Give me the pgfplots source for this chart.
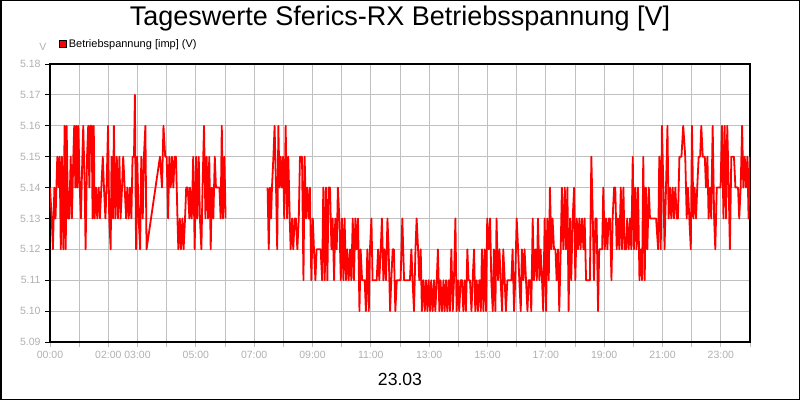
\documentclass[border=0pt]{standalone}
\usepackage{fontspec}
\setmainfont{Liberation Sans}
\usepackage{pgfplots}
\pgfplotsset{compat=1.18}
\definecolor{gridgray}{RGB}{192,192,192}
\definecolor{labelgray}{RGB}{176,176,176}

% Betriebsspannung, Stunden / Volt
\pgfplotstableread{
h v
0.00 5.14
0.06 5.13
0.10 5.12
0.15 5.14
0.19 5.13
0.25 5.15
0.30 5.14
0.33 5.15
0.37 5.12
0.41 5.15
0.46 5.12
0.50 5.16
0.54 5.12
0.57 5.16
0.62 5.13
0.66 5.13
0.71 5.15
0.75 5.13
0.80 5.15
0.83 5.16
0.87 5.14
0.90 5.16
0.94 5.14
0.97 5.16
1.02 5.14
1.06 5.13
1.11 5.15
1.14 5.16
1.19 5.14
1.22 5.12
1.27 5.15
1.31 5.16
1.35 5.14
1.38 5.16
1.43 5.16
1.46 5.13
1.50 5.16
1.53 5.13
1.58 5.14
1.62 5.13
1.67 5.14
1.71 5.13
1.76 5.14
1.81 5.15
1.85 5.14
1.90 5.13
1.94 5.14
1.99 5.16
2.03 5.13
2.08 5.12
2.11 5.15
2.16 5.13
2.19 5.16
2.24 5.13
2.29 5.15
2.33 5.13
2.38 5.15
2.42 5.13
2.47 5.14
2.51 5.15
2.56 5.14
2.61 5.13
2.65 5.14
2.70 5.13
2.74 5.14
2.79 5.13
2.83 5.15
2.88 5.15
2.91 5.17
2.95 5.12
2.99 5.15
3.04 5.13
3.09 5.12
3.13 5.15
3.18 5.13
3.22 5.15
3.27 5.16
3.31 5.12
3.77 5.15
3.84 5.14
3.89 5.16
3.95 5.15
4.00 5.15
4.05 5.13
4.09 5.15
4.14 5.14
4.18 5.15
4.23 5.14
4.27 5.15
4.32 5.15
4.37 5.13
4.40 5.12
4.45 5.13
4.49 5.12
4.54 5.13
4.58 5.12
4.63 5.13
4.67 5.14
4.72 5.14
4.78 5.13
4.80 5.14
4.86 5.13
4.91 5.15
4.96 5.12
5.01 5.15
5.05 5.13
5.10 5.15
5.14 5.13
5.19 5.12
5.23 5.14
5.28 5.16
5.33 5.13
5.37 5.15
5.42 5.13
5.46 5.15
5.51 5.12
5.55 5.14
5.60 5.13
5.65 5.15
5.69 5.14
5.76 5.14
5.81 5.14
5.85 5.13
5.89 5.16
5.93 5.13
5.98 5.15
6.02 5.13
6.05 nan
7.46 5.14
7.50 5.12
7.54 5.14
7.58 5.13
7.61 5.14
7.66 5.15
7.70 5.16
7.75 5.14
7.79 5.12
7.83 5.16
7.87 5.14
7.91 5.15
7.95 5.14
7.99 5.15
8.03 5.13
8.08 5.16
8.13 5.13
8.17 5.15
8.22 5.13
8.25 5.12
8.30 5.13
8.34 5.12
8.39 5.13
8.43 5.13
8.48 5.12
8.53 5.13
8.57 5.15
8.64 5.15
8.69 5.11
8.73 5.15
8.78 5.13
8.82 5.14
8.87 5.13
8.91 5.14
8.96 5.11
9.01 5.13
9.05 5.12
9.10 5.11
9.14 5.12
9.21 5.12
9.28 5.12
9.33 5.11
9.37 5.14
9.42 5.11
9.46 5.14
9.51 5.11
9.55 5.14
9.60 5.14
9.65 5.12
9.69 5.13
9.74 5.11
9.78 5.13
9.83 5.12
9.87 5.14
9.92 5.13
9.97 5.11
10.01 5.13
10.06 5.11
10.10 5.13
10.15 5.11
10.19 5.12
10.24 5.11
10.29 5.12
10.33 5.11
10.38 5.13
10.42 5.11
10.47 5.13
10.51 5.12
10.56 5.13
10.61 5.10
10.65 5.12
10.70 5.11
10.74 5.11
10.79 5.11
10.83 5.10
10.88 5.12
10.93 5.10
10.97 5.12
11.02 5.13
11.06 5.11
11.13 5.11
11.20 5.11
11.25 5.12
11.29 5.11
11.34 5.12
11.38 5.13
11.43 5.11
11.47 5.12
11.52 5.11
11.57 5.13
11.61 5.12
11.66 5.10
11.70 5.11
11.75 5.12
11.79 5.12
11.84 5.10
11.89 5.11
11.95 5.11
12.02 5.11
12.08 5.13
12.14 5.11
12.21 5.11
12.27 5.11
12.34 5.11
12.39 5.12
12.43 5.11
12.48 5.10
12.53 5.12
12.57 5.13
12.62 5.12
12.66 5.11
12.71 5.12
12.75 5.10
12.80 5.11
12.85 5.10
12.89 5.11
12.94 5.10
12.98 5.11
13.03 5.10
13.07 5.11
13.12 5.10
13.17 5.11
13.21 5.10
13.26 5.11
13.30 5.12
13.35 5.10
13.39 5.11
13.44 5.10
13.49 5.11
13.53 5.10
13.58 5.11
13.62 5.10
13.67 5.11
13.71 5.10
13.76 5.12
13.81 5.10
13.85 5.11
13.90 5.13
13.94 5.10
13.99 5.11
14.03 5.10
14.08 5.11
14.13 5.11
14.17 5.10
14.22 5.11
14.26 5.10
14.31 5.12
14.35 5.11
14.40 5.11
14.45 5.10
14.49 5.11
14.54 5.12
14.58 5.10
14.63 5.11
14.67 5.10
14.72 5.11
14.77 5.10
14.81 5.12
14.86 5.10
14.90 5.12
14.95 5.10
14.99 5.13
15.04 5.12
15.09 5.13
15.13 5.11
15.18 5.10
15.22 5.12
15.27 5.10
15.31 5.13
15.36 5.11
15.41 5.12
15.45 5.11
15.50 5.10
15.54 5.12
15.59 5.11
15.63 5.10
15.68 5.11
15.75 5.11
15.82 5.11
15.86 5.12
15.91 5.10
15.95 5.11
16.00 5.13
16.05 5.12
16.09 5.11
16.14 5.10
16.18 5.12
16.23 5.11
16.27 5.12
16.32 5.11
16.37 5.10
16.41 5.11
16.46 5.11
16.50 5.10
16.55 5.13
16.59 5.11
16.64 5.12
16.69 5.11
16.73 5.13
16.78 5.11
16.82 5.12
16.87 5.11
16.91 5.10
16.96 5.13
17.01 5.10
17.05 5.13
17.10 5.11
17.14 5.14
17.19 5.12
17.23 5.13
17.28 5.12
17.33 5.12
17.37 5.11
17.42 5.12
17.46 5.10
17.51 5.12
17.55 5.14
17.60 5.12
17.65 5.14
17.69 5.12
17.74 5.14
17.78 5.10
17.83 5.13
17.87 5.11
17.92 5.13
17.97 5.14
18.01 5.11
18.06 5.13
18.10 5.12
18.15 5.13
18.19 5.12
18.24 5.13
18.29 5.12
18.33 5.13
18.38 5.11
18.45 5.11
18.51 5.11
18.56 5.15
18.61 5.13
18.65 5.11
18.70 5.13
18.74 5.13
18.79 5.10
18.83 5.12
18.88 5.12
18.93 5.12
18.97 5.14
19.02 5.12
19.06 5.13
19.11 5.12
19.15 5.13
19.20 5.13
19.25 5.11
19.29 5.13
19.34 5.14
19.38 5.14
19.43 5.12
19.47 5.13
19.52 5.12
19.57 5.14
19.61 5.12
19.66 5.14
19.70 5.12
19.75 5.12
19.79 5.13
19.84 5.12
19.89 5.13
19.93 5.12
19.98 5.15
20.02 5.12
20.07 5.14
20.11 5.12
20.16 5.14
20.21 5.11
20.25 5.12
20.30 5.11
20.34 5.15
20.39 5.11
20.43 5.14
20.48 5.12
20.53 5.14
20.57 5.13
20.64 5.13
20.71 5.13
20.78 5.13
20.85 5.12
20.89 5.15
20.94 5.12
20.98 5.16
21.03 5.14
21.07 5.12
21.12 5.14
21.17 5.16
21.21 5.13
21.26 5.14
21.30 5.13
21.35 5.14
21.39 5.13
21.44 5.14
21.49 5.13
21.53 5.13
21.58 5.15
21.65 5.15
21.71 5.16
21.78 5.15
21.83 5.13
21.87 5.14
21.92 5.13
21.97 5.12
22.01 5.16
22.06 5.13
22.10 5.14
22.15 5.13
22.19 5.14
22.24 5.15
22.29 5.15
22.33 5.16
22.38 5.15
22.45 5.15
22.49 5.14
22.54 5.15
22.58 5.13
22.63 5.14
22.67 5.13
22.72 5.16
22.77 5.13
22.81 5.12
22.86 5.14
22.93 5.14
22.99 5.14
23.04 5.16
23.09 5.13
23.13 5.16
23.18 5.13
23.22 5.16
23.27 5.14
23.31 5.12
23.36 5.15
23.41 5.15
23.45 5.15
23.50 5.14
23.54 5.14
23.59 5.14
23.63 5.13
23.68 5.14
23.73 5.16
23.77 5.14
23.82 5.15
23.86 5.14
23.91 5.15
23.95 5.13
24.00 5.15
}\spannung

\begin{document}
\begin{tikzpicture}[x=1pt,y=1pt]
\path[use as bounding box] (0,0) rectangle (800,400);
\begin{axis}[
    at={(50pt,58pt)}, anchor=south west,
    scale only axis, width=700pt, height=278pt,
    xmin=0, xmax=24, ymin=5.09, ymax=5.18,
    xtick={0,...,24},
    xticklabels={00:00,,02:00,03:00,,05:00,,07:00,,09:00,,11:00,,13:00,,15:00,,17:00,,19:00,,21:00,,23:00,},
    ytick={5.09,5.10,5.11,5.12,5.13,5.14,5.15,5.16,5.17,5.18},
    /pgf/number format/fixed,
    /pgf/number format/fixed zerofill,
    /pgf/number format/precision=2,
    /pgf/number format/assume math mode=true,
    ticklabel style={font=\fontsize{10.5}{12}\selectfont, text=labelgray},
    xticklabel style={yshift=-1pt},
    yticklabel style={xshift=-1pt},
    tick align=outside,
    major tick length=5pt,
    x tick style={gridgray, line width=1pt},
    y tick style={black, line width=1pt},
    xtick pos=bottom, ytick pos=left,
    grid=major,
    major grid style={gridgray, line width=1pt},
    axis line style={black, line width=1.2pt},
    unbounded coords=jump,
    legend style={at={(axis description cs:0,1)}, anchor=west,
        xshift=9pt, yshift=20pt, draw=none, fill=none, inner sep=0pt,
        font=\fontsize{11}{13}\selectfont},
    legend cell align=left,
    legend image code/.code={\draw[draw=black, fill=red, line width=0.6pt] (0pt,-3.5pt) rectangle (7pt,3.5pt);},
]
\addplot[red, line width=1.8pt, line join=round] table[x=h, y=v] {\spannung};
\addlegendentry{Betriebspannung [imp] (V)}
\end{axis}
\node[text=labelgray, font=\fontsize{10.5}{12}\selectfont] at (43,353) {V};
\node[font=\fontsize{27}{30}\selectfont] at (400,381) {Tageswerte Sferics-RX Betriebsspannung [V]};
\node[font=\fontsize{17.6}{20}\selectfont] at (400,21) {23.03};
\draw[black, line width=1.5pt] (0.75,0.75) rectangle (799.25,399.25);
\end{tikzpicture}
\end{document}
